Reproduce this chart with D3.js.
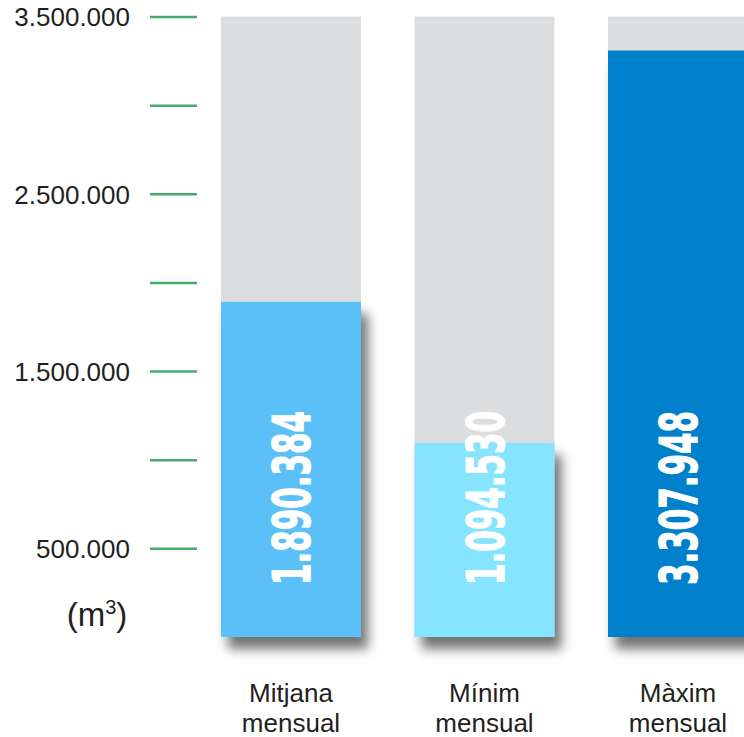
<!DOCTYPE html>
<html><head><meta charset="utf-8">
<script src="https://cdn.jsdelivr.net/npm/d3@7"></script>
<style>body{margin:0;background:#fff}svg{display:block}</style>
</head><body>
<svg id="c" width="744" height="737"></svg>
<script>
const categories = [["Mitjana","mensual"],["Mínim","mensual"],["Màxim","mensual"]];
const values = [1890384, 1094530, 3307948];
const valueLabels = ["1.890.384","1.094.530","3.307.948"];
const barColors = ["#5bc0f8","#87e4fe","#0080cb"];
const tickValues = [500000,1000000,1500000,2000000,2500000,3000000,3500000];
const tickLabels = ["500.000","","1.500.000","","2.500.000","","3.500.000"];
const maxValue = 3500000;

const svg = d3.select("#c");
const defs = svg.append("defs");
const f = defs.append("filter").attr("id","sh").attr("x","-20%").attr("y","-20%").attr("width","150%").attr("height","150%");
f.append("feDropShadow").attr("dx",7).attr("dy",12).attr("stdDeviation",6).attr("flood-color","#000").attr("flood-opacity",0.55);

const y = d3.scaleLinear().domain([0,maxValue]).range([637,16.5]);
const x = d3.scaleBand().domain(d3.range(values.length)).range([221,748]).paddingInner(0.2765).paddingOuter(0);

// axis
const axis = d3.axisLeft(y).tickValues(tickValues).tickSize(47).tickPadding(20)
  .tickFormat((d,i)=>tickLabels[i]);
const ag = svg.append("g").attr("transform","translate(197,0)").call(axis);
ag.select(".domain").remove();
ag.selectAll(".tick line").attr("stroke","#45ab6b").attr("stroke-width",2.5);
ag.selectAll(".tick text").attr("font-family","'Liberation Sans',Arial,sans-serif").attr("font-size",26).attr("fill","#231f20").attr("dy","0.36em");

svg.append("text").attr("x",97).attr("y",626).attr("text-anchor","middle")
  .attr("font-family","'Liberation Sans',Arial,sans-serif").attr("font-size",33).attr("fill","#231f20")
  .html('(m<tspan dy="-12" font-size="20">3</tspan><tspan dy="12">)</tspan>');

// background bars
svg.append("g").selectAll("rect").data(values).join("rect")
  .attr("x",(d,i)=>x(i)).attr("width",x.bandwidth())
  .attr("y",y(maxValue)).attr("height",y(0)-y(maxValue)).attr("fill","#dcdddf");

// value bars
svg.append("g").selectAll("rect").data(values).join("rect")
  .attr("x",(d,i)=>x(i)).attr("width",x.bandwidth())
  .attr("y",d=>y(d)).attr("height",d=>y(0)-y(d))
  .attr("fill",(d,i)=>barColors[i]).attr("filter","url(#sh)");

// value labels
svg.append("g").selectAll("text").data(values).join("text")
  .attr("transform",(d,i)=>`translate(${x(i)+x.bandwidth()/2+19},498) rotate(-90)`)
  .attr("text-anchor","middle")
  .attr("font-family","'Liberation Sans Narrow','DejaVu Sans Condensed',sans-serif")
  .attr("font-weight","bold").attr("font-size",52).attr("fill","#fff")
  .attr("stroke","#fff").attr("stroke-width",1.2)
  .attr("textLength",174).attr("lengthAdjust","spacingAndGlyphs")
  .text((d,i)=>valueLabels[i]);

// category labels
const cg = svg.append("g").selectAll("text").data(categories).join("text")
  .attr("x",(d,i)=>x(i)+x.bandwidth()/2).attr("text-anchor","middle")
  .attr("font-family","'Liberation Sans',Arial,sans-serif").attr("font-size",26).attr("fill","#231f20");
cg.append("tspan").attr("x",(d,i)=>x(i)+x.bandwidth()/2).attr("y",702).text(d=>d[0]);
cg.append("tspan").attr("x",(d,i)=>x(i)+x.bandwidth()/2).attr("y",732).text(d=>d[1]);
</script>
</body></html>
